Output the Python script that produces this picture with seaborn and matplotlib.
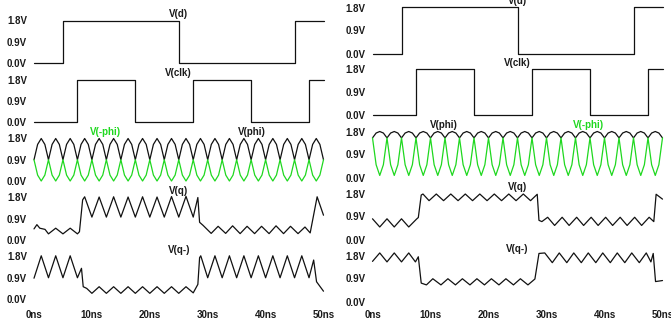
import matplotlib
matplotlib.use("Agg")
import matplotlib.pyplot as plt
import seaborn as sns

# ---------------- data (time in ns, voltage in V) ----------------
d_t = [0, 5, 25, 45, 50]
d_v = [0.0, 1.8, 0.0, 1.8, 1.8]

clk_t = [0, 7.5, 17.5, 27.5, 37.5, 47.5, 50]
clk_v = [0.0, 1.8, 0.0, 1.8, 0.0, 1.8, 1.8]

phi_t = [0, 0.625, 1.25, 1.875, 2.5, 3.125, 3.75, 4.375,
         5, 5.625, 6.25, 6.875, 7.5, 8.125, 8.75, 9.375,
         10, 10.625, 11.25, 11.875, 12.5, 13.125, 13.75, 14.375,
         15, 15.625, 16.25, 16.875, 17.5, 18.125, 18.75, 19.375,
         20, 20.625, 21.25, 21.875, 22.5, 23.125, 23.75, 24.375,
         25, 25.625, 26.25, 26.875, 27.5, 28.125, 28.75, 29.375,
         30, 30.625, 31.25, 31.875, 32.5, 33.125, 33.75, 34.375,
         35, 35.625, 36.25, 36.875, 37.5, 38.125, 38.75, 39.375,
         40, 40.625, 41.25, 41.875, 42.5, 43.125, 43.75, 44.375,
         45, 45.625, 46.25, 46.875, 47.5, 48.125, 48.75, 49.375,
         50]
# left figure
L_phi = [0.9, 1.55, 1.8, 1.55, 0.9, 1.55, 1.8, 1.55,
         0.9, 1.55, 1.8, 1.55, 0.9, 1.55, 1.8, 1.55,
         0.9, 1.55, 1.8, 1.55, 0.9, 1.55, 1.8, 1.55,
         0.9, 1.55, 1.8, 1.55, 0.9, 1.55, 1.8, 1.55,
         0.9, 1.55, 1.8, 1.55, 0.9, 1.55, 1.8, 1.55,
         0.9, 1.55, 1.8, 1.55, 0.9, 1.55, 1.8, 1.55,
         0.9, 1.55, 1.8, 1.55, 0.9, 1.55, 1.8, 1.55,
         0.9, 1.55, 1.8, 1.55, 0.9, 1.55, 1.8, 1.55,
         0.9, 1.55, 1.8, 1.55, 0.9, 1.55, 1.8, 1.55,
         0.9, 1.55, 1.8, 1.55, 0.9, 1.55, 1.8, 1.55,
         0.9]
L_nphi = [0.9, 0.25, 0.0, 0.25, 0.9, 0.25, 0.0, 0.25,
          0.9, 0.25, 0.0, 0.25, 0.9, 0.25, 0.0, 0.25,
          0.9, 0.25, 0.0, 0.25, 0.9, 0.25, 0.0, 0.25,
          0.9, 0.25, 0.0, 0.25, 0.9, 0.25, 0.0, 0.25,
          0.9, 0.25, 0.0, 0.25, 0.9, 0.25, 0.0, 0.25,
          0.9, 0.25, 0.0, 0.25, 0.9, 0.25, 0.0, 0.25,
          0.9, 0.25, 0.0, 0.25, 0.9, 0.25, 0.0, 0.25,
          0.9, 0.25, 0.0, 0.25, 0.9, 0.25, 0.0, 0.25,
          0.9, 0.25, 0.0, 0.25, 0.9, 0.25, 0.0, 0.25,
          0.9, 0.25, 0.0, 0.25, 0.9, 0.25, 0.0, 0.25,
          0.9]
# right figure
R_phi = [1.55, 1.74, 1.8, 1.74, 1.55, 1.74, 1.8, 1.74,
         1.55, 1.74, 1.8, 1.74, 1.55, 1.74, 1.8, 1.74,
         1.55, 1.74, 1.8, 1.74, 1.55, 1.74, 1.8, 1.74,
         1.55, 1.74, 1.8, 1.74, 1.55, 1.74, 1.8, 1.74,
         1.55, 1.74, 1.8, 1.74, 1.55, 1.74, 1.8, 1.74,
         1.55, 1.74, 1.8, 1.74, 1.55, 1.74, 1.8, 1.74,
         1.55, 1.74, 1.8, 1.74, 1.55, 1.74, 1.8, 1.74,
         1.55, 1.74, 1.8, 1.74, 1.55, 1.74, 1.8, 1.74,
         1.55, 1.74, 1.8, 1.74, 1.55, 1.74, 1.8, 1.74,
         1.55, 1.74, 1.8, 1.74, 1.55, 1.74, 1.8, 1.74,
         1.55]
R_nphi = [1.55, 0.5, 0.08, 0.5, 1.55, 0.5, 0.08, 0.5,
          1.55, 0.5, 0.08, 0.5, 1.55, 0.5, 0.08, 0.5,
          1.55, 0.5, 0.08, 0.5, 1.55, 0.5, 0.08, 0.5,
          1.55, 0.5, 0.08, 0.5, 1.55, 0.5, 0.08, 0.5,
          1.55, 0.5, 0.08, 0.5, 1.55, 0.5, 0.08, 0.5,
          1.55, 0.5, 0.08, 0.5, 1.55, 0.5, 0.08, 0.5,
          1.55, 0.5, 0.08, 0.5, 1.55, 0.5, 0.08, 0.5,
          1.55, 0.5, 0.08, 0.5, 1.55, 0.5, 0.08, 0.5,
          1.55, 0.5, 0.08, 0.5, 1.55, 0.5, 0.08, 0.5,
          1.55, 0.5, 0.08, 0.5, 1.55, 0.5, 0.08, 0.5,
          1.55]

Lq_t = [0, 0.5, 1.0, 1.9, 2.5, 3.75, 5.0, 6.25, 7.5, 7.85, 8.4, 8.75, 10, 11.25, 12.5,
        13.75, 15, 16.25, 17.5, 18.75, 20, 21.25, 22.5, 23.75, 25, 26.25, 27.5, 28.3,
        28.6, 29.2, 30.6, 31.8, 33.1, 34.3, 35.6, 36.8, 38.1, 39.3, 40.6, 41.8, 43.1,
        44.3, 45.6, 46.8, 47.7, 48.9, 50]
Lq_v = [0.47, 0.65, 0.5, 0.45, 0.26, 0.5, 0.26, 0.5, 0.26, 0.35, 1.7, 1.83, 0.97, 1.82,
        0.97, 1.83, 0.97, 1.82, 0.97, 1.83, 0.97, 1.82, 0.97, 1.84, 0.97, 1.85, 0.97,
        1.8, 0.75, 0.62, 0.28, 0.58, 0.28, 0.6, 0.27, 0.58, 0.27, 0.58, 0.27, 0.6, 0.27,
        0.58, 0.27, 0.55, 0.3, 1.83, 1.05]

Lqn_t = [0, 1.25, 2.5, 3.75, 5, 6.25, 7.5, 8.2, 8.5, 9.1, 10, 11.25, 12.5, 13.75, 15,
         16.25, 17.5, 18.75, 20, 21.25, 22.5, 23.75, 25, 26.25, 27.5, 28.3, 28.6, 28.8,
         30, 31.25, 32.5, 33.75, 35, 36.25, 37.5, 38.75, 40, 41.25, 42.5, 43.75, 45,
         46.25, 47.5, 48.3, 48.8, 50]
Lqn_v = [0.88, 1.83, 0.9, 1.83, 0.9, 1.83, 0.9, 1.3, 0.52, 0.45, 0.24, 0.52, 0.24, 0.52,
         0.24, 0.52, 0.24, 0.52, 0.24, 0.52, 0.24, 0.52, 0.24, 0.52, 0.26, 0.62, 1.75,
         1.83, 0.9, 1.83, 0.9, 1.83, 0.9, 1.83, 0.9, 1.83, 0.9, 1.83, 0.9, 1.83, 0.9,
         1.83, 0.9, 1.65, 0.73, 0.33]

Rq_t = [0, 1.25, 2.5, 3.75, 5, 6.25, 7.6, 7.9, 8.4, 8.7, 9.75, 11, 12.25, 13.5, 14.75,
        16, 17.25, 18.5, 19.75, 21, 22.25, 23.5, 24.75, 26, 27.25, 28.4, 28.7, 29.2,
        30.2, 31.4, 32.7, 33.9, 35.2, 36.4, 37.7, 38.9, 40.2, 41.4, 42.7, 43.9, 45.2,
        46.4, 47.7, 48.5, 48.9, 50]
Rq_v = [0.81, 0.49, 0.81, 0.49, 0.81, 0.49, 0.8, 0.86, 1.74, 1.78, 1.52, 1.78, 1.52,
        1.78, 1.52, 1.78, 1.52, 1.78, 1.52, 1.78, 1.52, 1.78, 1.52, 1.78, 1.52, 1.77,
        0.75, 0.7, 0.87, 0.55, 0.87, 0.55, 0.87, 0.55, 0.87, 0.55, 0.87, 0.55, 0.87,
        0.55, 0.87, 0.55, 0.87, 0.7, 1.77, 1.58]

Rqn_t = [0, 1.25, 2.5, 3.75, 5, 6.25, 7.4, 7.9, 8.4, 9.3, 10.4, 11.8, 13.0, 14.3, 15.5,
         16.8, 18.0, 19.3, 20.5, 21.8, 23.0, 24.3, 25.5, 26.8, 28.0, 28.7, 29.7, 31.0,
         32.2, 33.5, 34.7, 36.0, 37.2, 38.5, 39.7, 41.0, 42.2, 43.5, 44.7, 46.0, 47.2,
         48.0, 48.4, 48.8, 50]
Rqn_v = [1.57, 1.9, 1.55, 1.9, 1.55, 1.9, 1.55, 1.75, 0.72, 0.65, 0.89, 0.65, 0.89, 0.65,
         0.89, 0.65, 0.89, 0.65, 0.89, 0.65, 0.89, 0.65, 0.89, 0.65, 0.88, 1.88, 1.9,
         1.52, 1.9, 1.52, 1.9, 1.52, 1.9, 1.52, 1.9, 1.52, 1.9, 1.52, 1.9, 1.52, 1.9,
         1.55, 1.88, 0.78, 0.82]

y_ticks = [0.0, 0.9, 1.8]
y_labels = ["0.0V", "0.9V", "1.8V"]
x_ticks = [0, 10, 20, 30, 40, 50]
x_labels = ["0ns", "10ns", "20ns", "30ns", "40ns", "50ns"]

# ---------------- styling ----------------
sns.set_theme(style="white")
plt.rcParams["font.family"] = ["Liberation Sans", "DejaVu Sans"]

BLACK = "#111111"
GREEN = "#1fd81f"
TXT = "#1a1a1a"
LW = 0.9
FS = 7

W, H = 671, 324
fig = plt.figure(figsize=(W / 100, H / 100), dpi=100)
fig.patch.set_facecolor("white")


def make_ax(x0, x1, ytop, ybot, bottom, xpad):
    ax = fig.add_axes([x0 / W, 1 - ybot / H, (x1 - x0) / W, (ybot - ytop) / H])
    ax.set_facecolor("none")
    for s in ax.spines.values():
        s.set_visible(False)
    ax.set_xlim(0, 50)
    ax.set_ylim(0, 1.8)
    ax.set_yticks(y_ticks)
    ax.set_yticklabels(y_labels, fontsize=FS, fontweight="bold", color=TXT)
    ax.tick_params(axis="y", length=0, pad=5)
    if bottom:
        ax.set_xticks(x_ticks)
        ax.set_xticklabels(x_labels, fontsize=FS, fontweight="bold", color=TXT)
        ax.tick_params(axis="x", length=0, pad=xpad)
    else:
        ax.set_xticks([])
    ax.set_xlabel("")
    ax.set_ylabel("")
    return ax


def trace(ax, t, v, color=BLACK, steps=False):
    kw = dict(drawstyle="steps-post") if steps else {}
    sns.lineplot(x=t, y=v, ax=ax, color=color, linewidth=LW, estimator=None,
                 sort=False, **kw)
    for ln in ax.lines:
        ln.set_clip_on(False)


def label(ax, x, text, color=TXT):
    ax.annotate(text, xy=(x, 1.8), xytext=(0, 4.7), textcoords="offset points",
                ha="center", va="center", fontsize=FS, fontweight="bold",
                color=color, annotation_clip=False)


# ---------------- left figure ----------------
LX0, LX1 = 34, 323.5
tops_L = [20.5, 79.5, 138.5, 197.5, 256.5]
bots_L = [63, 122, 181, 240, 299]
axL = [make_ax(LX0, LX1, tops_L[i], bots_L[i], i == 4, 8) for i in range(5)]

trace(axL[0], d_t, d_v, steps=True)
label(axL[0], 25, "V(d)")
trace(axL[1], clk_t, clk_v, steps=True)
label(axL[1], 25, "V(clk)")
trace(axL[2], phi_t, L_phi)
trace(axL[2], phi_t, L_nphi, color=GREEN)
label(axL[2], 12.3, "V(-phi)", color=GREEN)
label(axL[2], 37.6, "V(phi)")
trace(axL[3], Lq_t, Lq_v)
label(axL[3], 25, "V(q)")
trace(axL[4], Lqn_t, Lqn_v)
label(axL[4], 25, "V(q-)")

# ---------------- right figure ----------------
RX0, RX1 = 372.5, 662.5
tops_R = [7.5, 69.5, 131.5, 193.5, 255.5]
bots_R = [53.5, 115.5, 177.5, 239.5, 301.5]
axR = [make_ax(RX0, RX1, tops_R[i], bots_R[i], i == 4, 6) for i in range(5)]

trace(axR[0], d_t, d_v, steps=True)
label(axR[0], 25, "V(d)")
trace(axR[1], clk_t, clk_v, steps=True)
label(axR[1], 25, "V(clk)")
trace(axR[2], phi_t, R_phi)
trace(axR[2], phi_t, R_nphi, color=GREEN)
label(axR[2], 12.3, "V(phi)")
label(axR[2], 37.3, "V(-phi)", color=GREEN)
trace(axR[3], Rq_t, Rq_v)
label(axR[3], 25, "V(q)")
trace(axR[4], Rqn_t, Rqn_v)
label(axR[4], 25, "V(q-)")

fig.savefig("out.png", dpi=100, facecolor="white")
